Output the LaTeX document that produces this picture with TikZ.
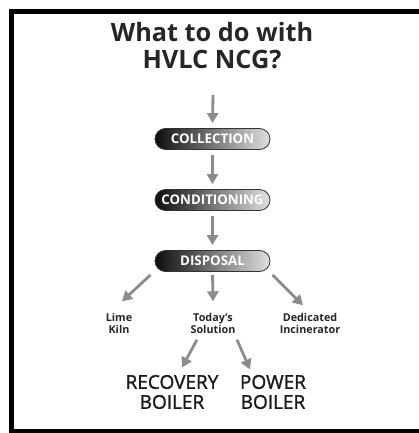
\documentclass[tikz,border=0pt]{standalone}
\usepackage{fontspec}
\setmainfont{Open Sans}
\newfontfamily\boilerfont[FakeBold=1.3]{Open Sans}
\usetikzlibrary{arrows.meta}

\begin{document}
\begin{tikzpicture}[x=1pt, y=-1pt,
                    pill/.style={rounded corners=10.5pt, draw=black!80, line width=0.8pt,
                                 left color=black!95, middle color=black!55, right color=black!12, shading angle=90,
                                 minimum width=115pt, minimum height=21pt, inner sep=0pt,
                                 text=white, font=\bfseries\fontsize{13.3}{14}\selectfont},
                    small_label/.style={align=center, font=\bfseries\fontsize{10.8}{12}\selectfont, text=black!85},
                    big_label/.style={align=center, font=\boilerfont\fontsize{19}{20}\selectfont, text=black!90},
                    arrow_style/.style={draw=black!45, line width=2.8pt, -{Triangle[width=11pt, length=10pt]}}]
    \useasboundingbox (0,0) rectangle (419,433);
    % frame
    \draw[line width=5pt] (11,433) -- (11,11.5) -- (419,11.5);
    \draw[line width=4pt] (9,431) -- (419,431);
    % title
    \node[align=center, font=\bfseries\fontsize{25.3}{27}\selectfont, text=black!85] (title) at (212,46) {What to do with\\HVLC NCG?};
    \coordinate (start) at (213,95);
    \node[pill] (collection) at (212.5,139) {COLLECTION};
    \node[pill] (conditioning) at (212.5,200) {CONDITIONING};
    \node[pill] (disposal) at (212.5,261) {DISPOSAL};
    \node[small_label] (lime) at (119,323) {Lime\\Kiln};
    \node[small_label] (solution) at (213,323) {Today's\\Solution};
    \node[small_label] (incinerator) at (310,323) {Dedicated\\Incinerator};
    \node[big_label] (recovery) at (172,392) {RECOVERY\\BOILER};
    \node[big_label] (power) at (273,392) {POWER\\BOILER};
    \draw[arrow_style] (start) -- ([yshift=5pt]collection.north);
    \draw[arrow_style] ([yshift=-5pt]collection.south) -- ([yshift=5pt]conditioning.north);
    \draw[arrow_style] ([yshift=-5pt]conditioning.south) -- ([yshift=5pt]disposal.north);
    \draw[arrow_style] ([xshift=-62pt,yshift=-3pt]disposal.south) -- ([xshift=3pt,yshift=8pt]lime.north);
    \draw[arrow_style] ([yshift=-3pt]disposal.south) -- ([yshift=8pt]solution.north);
    \draw[arrow_style] ([xshift=60pt,yshift=-3pt]disposal.south) -- ([xshift=-7pt,yshift=4pt]incinerator.north);
    \draw[arrow_style] ([xshift=-16pt,yshift=-3pt]solution.south) -- ([xshift=10pt,yshift=4pt]recovery.north);
    \draw[arrow_style] ([xshift=24pt,yshift=-3pt]solution.south) -- ([xshift=-23pt,yshift=2pt]power.north);
\end{tikzpicture}
\end{document}
